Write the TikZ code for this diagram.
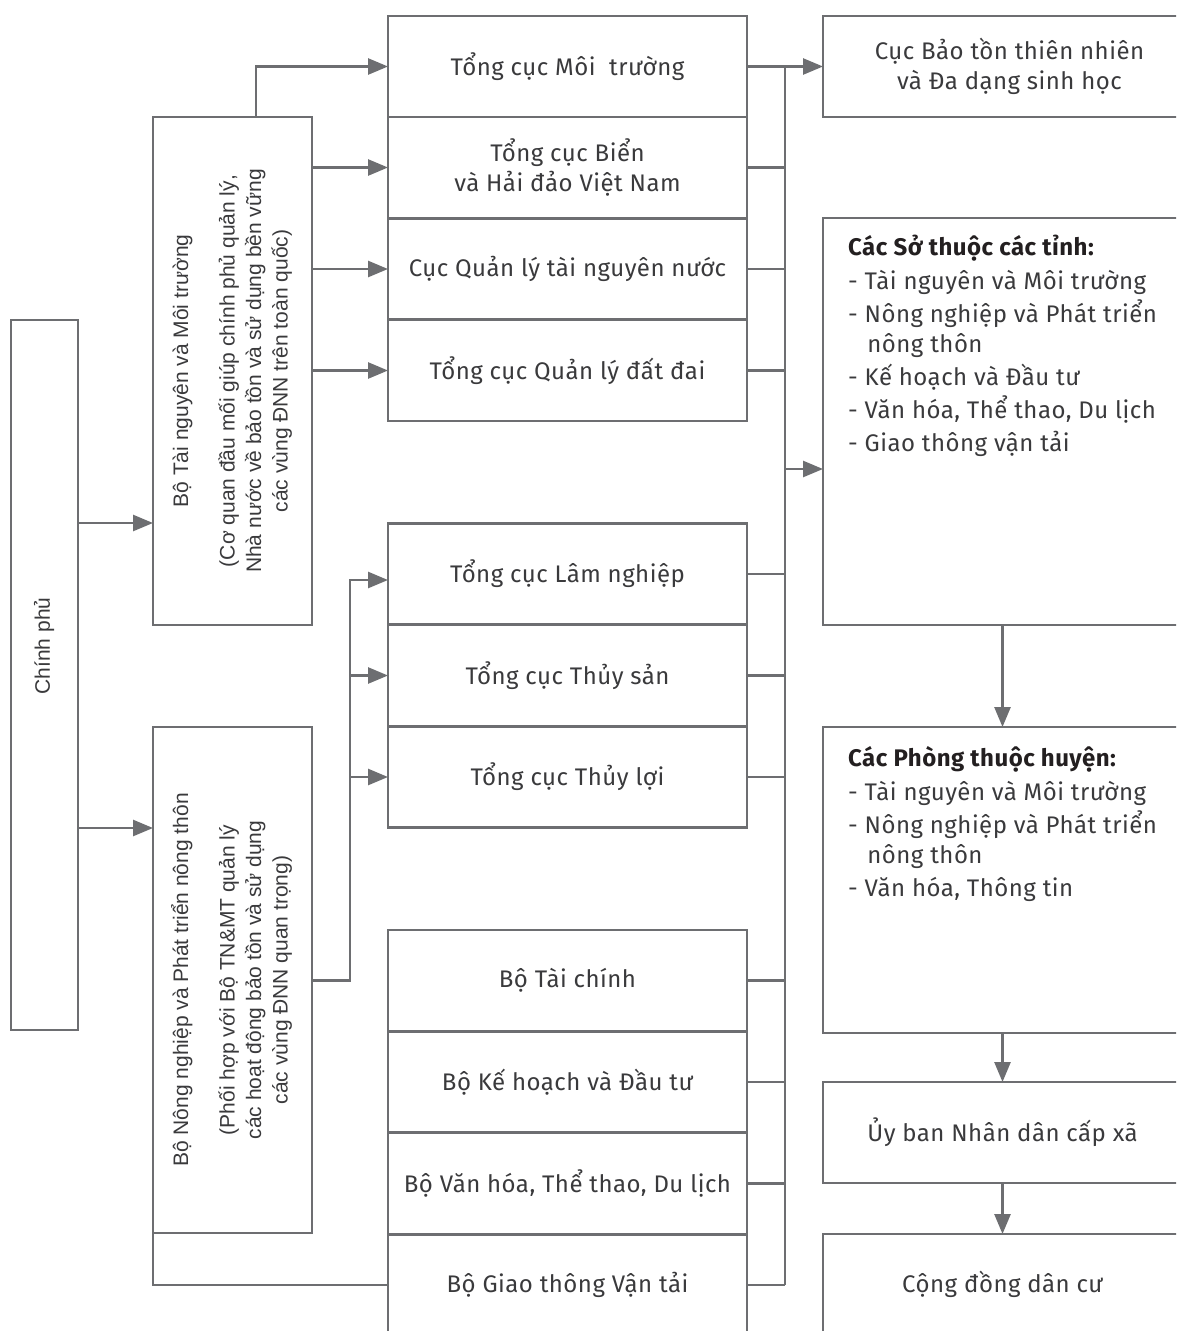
\documentclass[tikz,border=0pt]{standalone}
\usepackage{fontspec}
\usepackage{graphicx}
\usepackage{xcolor}
\usetikzlibrary{arrows.meta}
\setmainfont{Fira Sans}[LetterSpace=2]
\newfontfamily\rotfont{Liberation Sans}
\definecolor{line_gray}{HTML}{6D6E71}
\definecolor{text_gray}{HTML}{3A3A3C}
\definecolor{head_gray}{HTML}{231F20}
% rotated text for the tall boxes
\newcommand{\vtext}[1]{\rotatebox{90}{\rotfont\fontsize{21}{26.5}\selectfont\begin{tabular}{@{}c@{}}#1\end{tabular}}}

\begin{document}
\begin{tikzpicture}[x=1pt, y=-1pt,
        box/.style={draw=line_gray, line width=2.6pt, inner sep=0pt, outer sep=0pt, align=center,
            text=text_gray, font=\fontsize{24}{30}\selectfont, minimum width=359pt, minimum height=101pt},
        listtxt/.style={anchor=north west, inner sep=0pt, align=left, text=text_gray,
            font=\fontsize{24}{30}\selectfont},
        conn/.style={draw=line_gray, line width=2.6pt},
        arr/.style={conn, -{Triangle[length=20pt, width=16pt]}}]
    \useasboundingbox (0,0) rectangle (1176,1331);
    \clip (0,0) rectangle (1176,1331);
    \fill[white] (0,0) rectangle (1176,1331);

    % left column
    \node[box, minimum width=67pt, minimum height=710pt] (cp) at (44.5,675) {\vtext{\hspace*{58pt}Chính phủ}};
    \node[box, minimum width=159pt, minimum height=508pt] (tnmt) at (232.5,371) {\vtext{Bộ Tài nguyên và Môi trường\\[20pt]
        (Cơ quan đầu mối giúp chính phủ quản lý,\\ Nhà nước về bảo tồn và sử dụng bền vững\\ các vùng ĐNN trên toàn quốc)}};
    \node[box, minimum width=159pt, minimum height=506pt] (nn) at (232.5,980) {\vtext{Bộ Nông nghiệp và Phát triển nông thôn\\[20pt]
        (Phối hợp với Bộ TN\&MT quản lý\\ các hoạt động bảo tồn và sử dụng\\ các vùng ĐNN quan trọng)}};

    % middle column
    \node[box] (tcmt) at (567.5,66.5) {Tổng cục Môi\ \ trường};
    \node[box] (bien) at (567.5,167.5) {Tổng cục Biển\\ và Hải đảo Việt Nam};
    \node[box] (nuoc) at (567.5,269) {Cục Quản lý tài nguyên nước};
    \node[box] (datdai) at (567.5,370.5) {Tổng cục Quản lý đất đai};
    \node[box] (lam) at (567.5,574) {Tổng cục Lâm nghiệp};
    \node[box] (thuysan) at (567.5,675.5) {Tổng cục Thủy sản};
    \node[box] (thuyloi) at (567.5,777) {Tổng cục Thủy lợi};
    \node[box] (taichinh) at (567.5,980.5) {Bộ Tài chính};
    \node[box] (khdt) at (567.5,1082) {Bộ Kế hoạch và Đầu tư};
    \node[box] (vhtt) at (567.5,1183.5) {Bộ Văn hóa, Thể thao, Du lịch};
    \node[box] (gtvt) at (567.5,1285) {Bộ Giao thông Vận tải};

    % right column
    \node[box] (cbt) at (1002.5,66.5) {\hspace*{14pt}Cục Bảo tồn thiên nhiên\\ \hspace*{14pt}và Đa dạng sinh học};
    \node[box, minimum height=407pt] (so) at (1002.5,421.5) {};
    \node[listtxt] (so_txt) at (848,235) {\textbf{\color{head_gray}Các Sở thuộc các tỉnh:}\\[4pt]
        - Tài nguyên và Môi trường\\[3pt]
        - Nông nghiệp và Phát triển\\ \hspace*{0.8em}nông thôn\\[3pt]
        - Kế hoạch và Đầu tư\\[3pt]
        - Văn hóa, Thể thao, Du lịch\\[3pt]
        - Giao thông vận tải};
    \node[box, minimum height=306pt] (phong) at (1002.5,880) {};
    \node[listtxt] (phong_txt) at (848,746) {\textbf{\color{head_gray}Các Phòng thuộc huyện:}\\[4pt]
        - Tài nguyên và Môi trường\\[3pt]
        - Nông nghiệp và Phát triển\\ \hspace*{0.8em}nông thôn\\[3pt]
        - Văn hóa, Thông tin};
    \node[box] (ubnd) at (1002.5,1132.5) {Ủy ban Nhân dân cấp xã};
    \node[box] (cd) at (1002.5,1284.5) {Cộng đồng dân cư};

    % helper points
    \coordinate (y_tnmt) at (0,523);
    \coordinate (y_nn) at (0,828);
    \coordinate (x_top) at (256,0);
    \coordinate (nn_bus) at (350,980.5);
    \coordinate (lam_in) at (350,580);
    \coordinate (bus) at (785,0);
    \coordinate (so_in) at (785,469);

    % Chinh phu to the two ministries
    \draw[arr] (cp.east |- y_tnmt) -- (tnmt.west |- y_tnmt);
    \draw[arr] (cp.east |- y_nn) -- (nn.west |- y_nn);

    % Bo TN&MT
    \draw[arr] (tnmt.north -| x_top) |- (tcmt.west);
    \draw[arr] (tnmt.east |- bien) -- (bien.west);
    \draw[arr] (tnmt.east |- nuoc) -- (nuoc.west);
    \draw[arr] (tnmt.east |- datdai) -- (datdai.west);

    % Bo NN&PTNT
    \draw[arr] (nn.east |- nn_bus) -| (lam_in) -- (lam.west |- lam_in);
    \draw[arr] (nn_bus |- thuysan) -- (thuysan.west);
    \draw[arr] (nn_bus |- thuyloi) -- (thuyloi.west);
    \draw[conn] (nn.south west) -- (nn.south west |- gtvt.west) -- (gtvt.west);

    % collector on the right
    \draw[conn] (tcmt.east -| bus) -- (gtvt.east -| bus);
    \foreach \n in {bien,nuoc,datdai,lam,thuysan,thuyloi,taichinh,khdt,vhtt,gtvt}
        \draw[conn] (\n.east) -- (\n.east -| bus);
    \draw[arr] (tcmt.east) -- (cbt.west);
    \draw[arr] (so_in) -- (so.west |- so_in);

    % down the right column
    \draw[arr] (so.south) -- (phong.north);
    \draw[arr] (phong.south) -- (ubnd.north);
    \draw[arr] (ubnd.south) -- (cd.north);
\end{tikzpicture}
\end{document}
